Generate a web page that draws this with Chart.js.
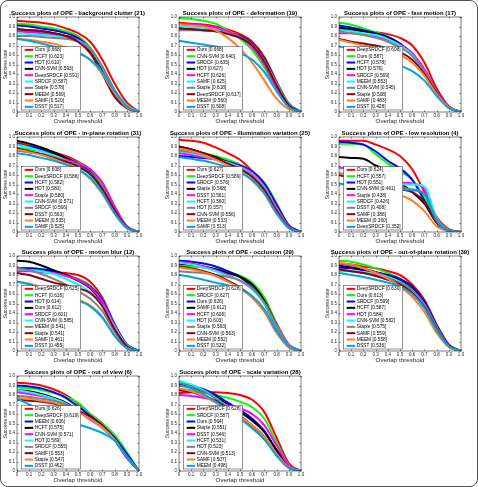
<!DOCTYPE html>
<html>
<head>
<meta charset="utf-8">
<script src="https://cdn.jsdelivr.net/npm/chart.js@4.4.1/dist/chart.umd.min.js"></script>
<style>
  body { margin: 0; background: #fff; }
  #page { position: relative; width: 478px; height: 487px; overflow: hidden; background: #fff; }
  #page canvas { position: absolute; }
  #edge { position: absolute; left: 0; top: 0; width: 478px; height: 487px; box-sizing: border-box;
          border: 1px solid #555; border-radius: 8px; pointer-events: none; }
</style>
</head>
<body>
<div id="page"><div id="edge"></div></div>
<script>
const thresholds = [0, 0.1, 0.2, 0.3, 0.4, 0.5, 0.6, 0.7, 0.8, 0.9, 1];
const colors = ['#ff0000', '#00ff00', '#0000ff', '#000000', '#ff00ff', '#00ffff', '#808080', '#880015', '#ff7f27', '#00a2e8'];

// background clutter
const clutterTrackers = ['Ours', 'HCFT', 'HDT', 'CNN-SVM', 'DeepSRDCF', 'SRDCF', 'Staple', 'MEEM', 'SAMF', 'DSST'];
const clutterScores = [0.668, 0.623, 0.610, 0.593, 0.591, 0.587, 0.578, 0.569, 0.520, 0.517];
const clutterCurves = [
    [0.96, 0.95, 0.94, 0.92, 0.88, 0.83, 0.74, 0.55, 0.30, 0.10, 0],
    [0.93, 0.92, 0.90, 0.88, 0.85, 0.80, 0.68, 0.47, 0.23, 0.07, 0],
    [0.91, 0.90, 0.88, 0.86, 0.83, 0.78, 0.66, 0.46, 0.22, 0.06, 0],
    [0.87, 0.86, 0.85, 0.83, 0.80, 0.76, 0.65, 0.45, 0.20, 0.05, 0],
    [0.85, 0.84, 0.83, 0.81, 0.79, 0.76, 0.67, 0.47, 0.22, 0.06, 0],
    [0.83, 0.82, 0.81, 0.80, 0.78, 0.75, 0.66, 0.47, 0.23, 0.07, 0],
    [0.80, 0.80, 0.79, 0.78, 0.77, 0.74, 0.66, 0.48, 0.23, 0.06, 0],
    [0.87, 0.86, 0.85, 0.83, 0.80, 0.74, 0.62, 0.40, 0.16, 0.04, 0],
    [0.77, 0.76, 0.74, 0.72, 0.68, 0.63, 0.55, 0.40, 0.20, 0.05, 0],
    [0.77, 0.75, 0.72, 0.69, 0.66, 0.62, 0.55, 0.42, 0.22, 0.06, 0],
];

// deformation
const deformTrackers = ['Ours', 'CNN-SVM', 'SRDCF', 'HDT', 'HCFT', 'SAMF', 'Staple', 'DeepSRDCF', 'MEEM', 'DSST'];
const deformScores = [0.668, 0.640, 0.635, 0.627, 0.626, 0.625, 0.618, 0.617, 0.560, 0.508];
const deformCurves = [
    [0.94, 0.93, 0.92, 0.90, 0.87, 0.82, 0.74, 0.58, 0.32, 0.09, 0],
    [0.99, 0.98, 0.96, 0.93, 0.86, 0.77, 0.65, 0.47, 0.24, 0.06, 0],
    [0.89, 0.88, 0.87, 0.86, 0.84, 0.80, 0.72, 0.56, 0.30, 0.08, 0],
    [0.88, 0.87, 0.86, 0.85, 0.83, 0.79, 0.71, 0.55, 0.30, 0.08, 0],
    [0.93, 0.92, 0.91, 0.89, 0.85, 0.79, 0.68, 0.50, 0.26, 0.07, 0],
    [0.90, 0.89, 0.88, 0.86, 0.83, 0.78, 0.70, 0.54, 0.30, 0.08, 0],
    [0.86, 0.86, 0.86, 0.85, 0.83, 0.79, 0.71, 0.54, 0.29, 0.07, 0],
    [0.88, 0.87, 0.86, 0.85, 0.82, 0.78, 0.70, 0.53, 0.28, 0.07, 0],
    [0.92, 0.91, 0.90, 0.86, 0.78, 0.67, 0.52, 0.33, 0.14, 0.03, 0],
    [0.75, 0.73, 0.71, 0.69, 0.66, 0.62, 0.55, 0.42, 0.22, 0.05, 0],
];

// fast motion
const fastTrackers = ['DeepSRDCF', 'Ours', 'HCFT', 'HDT', 'SRDCF', 'MEEM', 'CNN-SVM', 'Staple', 'SAMF', 'DSST'];
const fastScores = [0.608, 0.587, 0.578, 0.576, 0.569, 0.553, 0.545, 0.508, 0.483, 0.428];
const fastCurves = [
    [0.87, 0.86, 0.85, 0.84, 0.82, 0.78, 0.70, 0.52, 0.25, 0.06, 0],
    [0.94, 0.92, 0.88, 0.84, 0.79, 0.72, 0.61, 0.44, 0.21, 0.05, 0],
    [0.91, 0.89, 0.86, 0.83, 0.79, 0.72, 0.61, 0.44, 0.22, 0.05, 0],
    [0.89, 0.87, 0.85, 0.82, 0.78, 0.71, 0.61, 0.44, 0.22, 0.05, 0],
    [0.83, 0.83, 0.82, 0.80, 0.76, 0.71, 0.62, 0.45, 0.22, 0.05, 0],
    [0.86, 0.85, 0.83, 0.81, 0.77, 0.70, 0.60, 0.42, 0.20, 0.04, 0],
    [0.85, 0.83, 0.81, 0.78, 0.74, 0.68, 0.59, 0.43, 0.21, 0.05, 0],
    [0.77, 0.74, 0.72, 0.70, 0.67, 0.63, 0.55, 0.40, 0.20, 0.05, 0],
    [0.76, 0.73, 0.70, 0.67, 0.64, 0.60, 0.52, 0.38, 0.19, 0.05, 0],
    [0.69, 0.66, 0.62, 0.58, 0.54, 0.49, 0.43, 0.33, 0.17, 0.04, 0],
];

// in-plane rotation
const inPlaneTrackers = ['Ours', 'DeepSRDCF', 'HCFT', 'HDT', 'Staple', 'CNN-SVM', 'SRDCF', 'DSST', 'MEEM', 'SAMF'];
const inPlaneScores = [0.608, 0.586, 0.582, 0.580, 0.580, 0.571, 0.566, 0.563, 0.535, 0.525];
const inPlaneCurves = [
    [0.94, 0.91, 0.88, 0.84, 0.80, 0.74, 0.66, 0.50, 0.26, 0.06, 0],
    [0.89, 0.87, 0.85, 0.82, 0.78, 0.73, 0.65, 0.49, 0.26, 0.06, 0],
    [0.92, 0.90, 0.87, 0.83, 0.78, 0.72, 0.63, 0.46, 0.23, 0.05, 0],
    [0.96, 0.93, 0.89, 0.84, 0.78, 0.71, 0.61, 0.44, 0.22, 0.05, 0],
    [0.86, 0.84, 0.82, 0.79, 0.76, 0.72, 0.66, 0.52, 0.27, 0.06, 0],
    [0.92, 0.89, 0.85, 0.80, 0.75, 0.69, 0.60, 0.44, 0.22, 0.05, 0],
    [0.86, 0.84, 0.82, 0.79, 0.75, 0.70, 0.62, 0.46, 0.23, 0.05, 0],
    [0.88, 0.85, 0.82, 0.78, 0.74, 0.69, 0.61, 0.45, 0.23, 0.05, 0],
    [0.87, 0.84, 0.81, 0.77, 0.72, 0.66, 0.56, 0.40, 0.19, 0.04, 0],
    [0.83, 0.81, 0.78, 0.75, 0.71, 0.66, 0.57, 0.41, 0.20, 0.04, 0],
];

// illumination variation
const illumTrackers = ['Ours', 'DeepSRDCF', 'SRDCF', 'Staple', 'DSST', 'HCFT', 'HDT', 'CNN-SVM', 'MEEM', 'SAMF'];
const illumScores = [0.627, 0.589, 0.576, 0.568, 0.561, 0.560, 0.557, 0.556, 0.533, 0.513];
const illumCurves = [
    [0.97, 0.96, 0.94, 0.89, 0.83, 0.76, 0.64, 0.48, 0.28, 0.07, 0],
    [0.85, 0.84, 0.83, 0.80, 0.76, 0.71, 0.64, 0.52, 0.30, 0.07, 0],
    [0.80, 0.79, 0.78, 0.77, 0.74, 0.70, 0.64, 0.51, 0.29, 0.07, 0],
    [0.90, 0.87, 0.83, 0.79, 0.73, 0.67, 0.60, 0.48, 0.25, 0.05, 0],
    [0.83, 0.81, 0.79, 0.76, 0.73, 0.69, 0.62, 0.48, 0.26, 0.06, 0],
    [0.85, 0.83, 0.80, 0.77, 0.73, 0.68, 0.61, 0.47, 0.24, 0.05, 0],
    [0.86, 0.84, 0.81, 0.77, 0.72, 0.67, 0.60, 0.46, 0.24, 0.05, 0],
    [0.90, 0.87, 0.83, 0.78, 0.72, 0.66, 0.58, 0.44, 0.22, 0.05, 0],
    [0.88, 0.85, 0.81, 0.76, 0.70, 0.63, 0.54, 0.40, 0.19, 0.04, 0],
    [0.79, 0.77, 0.75, 0.72, 0.68, 0.63, 0.55, 0.41, 0.20, 0.04, 0],
];

// low resolution
const lowResTrackers = ['Ours', 'HCFT', 'HDT', 'CNN-SVM', 'Staple', 'SRDCF', 'DSST', 'SAMF', 'MEEM', 'DeepSRDCF'];
const lowResScores = [0.624, 0.557, 0.551, 0.461, 0.438, 0.426, 0.408, 0.388, 0.360, 0.352];
const lowResCurves = [
    [0.96, 0.96, 0.96, 0.92, 0.87, 0.80, 0.66, 0.42, 0.16, 0.03, 0],
    [0.93, 0.93, 0.92, 0.82, 0.72, 0.64, 0.55, 0.36, 0.12, 0.02, 0],
    [0.95, 0.94, 0.92, 0.85, 0.75, 0.67, 0.55, 0.33, 0.10, 0.02, 0],
    [0.79, 0.78, 0.77, 0.70, 0.64, 0.52, 0.42, 0.30, 0.10, 0.02, 0],
    [0.68, 0.66, 0.62, 0.58, 0.54, 0.52, 0.51, 0.45, 0.10, 0.01, 0],
    [0.62, 0.60, 0.56, 0.53, 0.51, 0.50, 0.50, 0.48, 0.15, 0.02, 0],
    [0.62, 0.59, 0.55, 0.52, 0.49, 0.47, 0.45, 0.40, 0.14, 0.02, 0],
    [0.60, 0.57, 0.53, 0.50, 0.47, 0.45, 0.42, 0.32, 0.10, 0.01, 0],
    [0.62, 0.58, 0.53, 0.48, 0.43, 0.39, 0.33, 0.22, 0.06, 0.01, 0],
    [0.51, 0.49, 0.48, 0.47, 0.46, 0.45, 0.44, 0.40, 0.12, 0.01, 0],
];

// motion blur
const blurTrackers = ['DeepSRDCF', 'HCFT', 'HDT', 'Ours', 'SRDCF', 'CNN-SVM', 'MEEM', 'Staple', 'SAMF', 'DSST'];
const blurScores = [0.625, 0.616, 0.614, 0.612, 0.601, 0.585, 0.541, 0.541, 0.461, 0.455];
const blurCurves = [
    [0.86, 0.85, 0.84, 0.83, 0.82, 0.80, 0.73, 0.56, 0.28, 0.06, 0],
    [0.87, 0.87, 0.86, 0.84, 0.80, 0.76, 0.69, 0.54, 0.28, 0.07, 0],
    [0.87, 0.87, 0.86, 0.84, 0.80, 0.75, 0.68, 0.54, 0.28, 0.07, 0],
    [0.95, 0.94, 0.90, 0.85, 0.80, 0.74, 0.66, 0.50, 0.25, 0.06, 0],
    [0.84, 0.84, 0.83, 0.82, 0.79, 0.75, 0.67, 0.52, 0.27, 0.06, 0],
    [0.86, 0.85, 0.84, 0.81, 0.76, 0.70, 0.62, 0.48, 0.25, 0.06, 0],
    [0.87, 0.85, 0.81, 0.76, 0.70, 0.63, 0.55, 0.42, 0.20, 0.04, 0],
    [0.82, 0.80, 0.76, 0.72, 0.69, 0.66, 0.61, 0.47, 0.23, 0.05, 0],
    [0.73, 0.71, 0.67, 0.62, 0.58, 0.54, 0.48, 0.36, 0.16, 0.03, 0],
    [0.73, 0.70, 0.66, 0.61, 0.57, 0.53, 0.47, 0.35, 0.16, 0.03, 0],
];

// occlusion
const occlTrackers = ['DeepSRDCF', 'SRDCF', 'Ours', 'SAMF', 'HCFT', 'HDT', 'Staple', 'CNN-SVM', 'MEEM', 'DSST'];
const occlScores = [0.628, 0.627, 0.626, 0.612, 0.606, 0.603, 0.593, 0.563, 0.552, 0.532];
const occlCurves = [
    [0.91, 0.90, 0.88, 0.86, 0.83, 0.79, 0.71, 0.55, 0.29, 0.07, 0],
    [0.90, 0.89, 0.88, 0.86, 0.83, 0.79, 0.72, 0.56, 0.28, 0.06, 0],
    [0.95, 0.94, 0.92, 0.89, 0.84, 0.78, 0.67, 0.50, 0.25, 0.06, 0],
    [0.92, 0.91, 0.89, 0.86, 0.82, 0.78, 0.70, 0.53, 0.27, 0.06, 0],
    [0.94, 0.92, 0.89, 0.85, 0.80, 0.74, 0.65, 0.50, 0.26, 0.06, 0],
    [0.93, 0.91, 0.88, 0.84, 0.79, 0.74, 0.65, 0.50, 0.26, 0.06, 0],
    [0.84, 0.83, 0.82, 0.80, 0.78, 0.74, 0.66, 0.51, 0.27, 0.06, 0],
    [0.89, 0.87, 0.84, 0.80, 0.74, 0.67, 0.57, 0.42, 0.20, 0.04, 0],
    [0.88, 0.86, 0.83, 0.79, 0.73, 0.66, 0.56, 0.41, 0.19, 0.04, 0],
    [0.80, 0.78, 0.75, 0.72, 0.69, 0.65, 0.58, 0.44, 0.21, 0.05, 0],
];

// out-of-plane rotation
const outPlaneTrackers = ['DeepSRDCF', 'Ours', 'SRDCF', 'HCFT', 'HDT', 'CNN-SVM', 'Staple', 'SAMF', 'MEEM', 'DSST'];
const outPlaneScores = [0.630, 0.613, 0.599, 0.587, 0.584, 0.582, 0.575, 0.559, 0.558, 0.536];
const outPlaneCurves = [
    [0.92, 0.91, 0.89, 0.87, 0.84, 0.80, 0.70, 0.54, 0.28, 0.07, 0],
    [0.95, 0.94, 0.91, 0.87, 0.82, 0.76, 0.66, 0.49, 0.25, 0.06, 0],
    [0.88, 0.87, 0.85, 0.83, 0.80, 0.76, 0.68, 0.52, 0.27, 0.06, 0],
    [0.90, 0.88, 0.86, 0.83, 0.79, 0.74, 0.65, 0.49, 0.25, 0.05, 0],
    [0.92, 0.90, 0.87, 0.83, 0.78, 0.72, 0.63, 0.48, 0.24, 0.05, 0],
    [0.84, 0.84, 0.83, 0.81, 0.78, 0.73, 0.64, 0.49, 0.25, 0.05, 0],
    [0.85, 0.84, 0.82, 0.80, 0.77, 0.72, 0.64, 0.49, 0.25, 0.05, 0],
    [0.86, 0.84, 0.82, 0.79, 0.75, 0.70, 0.61, 0.46, 0.23, 0.05, 0],
    [0.93, 0.91, 0.87, 0.82, 0.76, 0.68, 0.57, 0.41, 0.19, 0.04, 0],
    [0.82, 0.80, 0.78, 0.75, 0.72, 0.68, 0.60, 0.45, 0.22, 0.05, 0],
];

// out of view
const outViewTrackers = ['Ours', 'DeepSRDCF', 'MEEM', 'HCFT', 'CNN-SVM', 'HDT', 'SRDCF', 'SAMF', 'Staple', 'DSST'];
const outViewScores = [0.626, 0.619, 0.606, 0.575, 0.571, 0.569, 0.555, 0.553, 0.547, 0.462];
const outViewCurves = [
    [0.93, 0.92, 0.90, 0.86, 0.80, 0.71, 0.60, 0.50, 0.35, 0.18, 0],
    [0.88, 0.87, 0.85, 0.82, 0.78, 0.72, 0.60, 0.50, 0.38, 0.20, 0],
    [0.90, 0.89, 0.87, 0.83, 0.77, 0.68, 0.58, 0.48, 0.35, 0.18, 0],
    [0.85, 0.84, 0.81, 0.77, 0.72, 0.64, 0.55, 0.46, 0.33, 0.15, 0],
    [0.83, 0.81, 0.79, 0.76, 0.71, 0.63, 0.54, 0.45, 0.33, 0.14, 0],
    [0.85, 0.83, 0.80, 0.76, 0.71, 0.63, 0.55, 0.45, 0.32, 0.15, 0],
    [0.79, 0.78, 0.76, 0.74, 0.70, 0.64, 0.56, 0.46, 0.33, 0.15, 0],
    [0.75, 0.74, 0.73, 0.71, 0.68, 0.63, 0.57, 0.48, 0.33, 0.14, 0],
    [0.77, 0.76, 0.74, 0.72, 0.68, 0.62, 0.55, 0.46, 0.33, 0.15, 0],
    [0.76, 0.70, 0.63, 0.56, 0.52, 0.49, 0.45, 0.40, 0.32, 0.15, 0],
];

// scale variation
const scaleTrackers = ['DeepSRDCF', 'SRDCF', 'Ours', 'Staple', 'DSST', 'HCFT', 'HDT', 'CNN-SVM', 'SAMF', 'MEEM'];
const scaleScores = [0.628, 0.587, 0.564, 0.551, 0.546, 0.531, 0.523, 0.513, 0.507, 0.498];
const scaleCurves = [
    [0.82, 0.83, 0.83, 0.83, 0.82, 0.80, 0.75, 0.62, 0.35, 0.08, 0],
    [0.86, 0.85, 0.83, 0.80, 0.77, 0.73, 0.67, 0.55, 0.30, 0.06, 0],
    [0.93, 0.90, 0.86, 0.80, 0.72, 0.64, 0.55, 0.42, 0.22, 0.05, 0],
    [0.91, 0.88, 0.84, 0.78, 0.70, 0.62, 0.53, 0.41, 0.22, 0.05, 0],
    [0.80, 0.79, 0.77, 0.74, 0.69, 0.66, 0.60, 0.48, 0.27, 0.06, 0],
    [0.95, 0.91, 0.85, 0.77, 0.67, 0.57, 0.47, 0.34, 0.17, 0.04, 0],
    [0.93, 0.89, 0.84, 0.76, 0.66, 0.56, 0.46, 0.34, 0.17, 0.04, 0],
    [0.85, 0.83, 0.79, 0.74, 0.66, 0.58, 0.48, 0.36, 0.18, 0.04, 0],
    [0.87, 0.84, 0.79, 0.72, 0.65, 0.57, 0.48, 0.36, 0.18, 0.04, 0],
    [0.90, 0.87, 0.81, 0.73, 0.64, 0.55, 0.45, 0.33, 0.16, 0.03, 0],
];

const panels = [
    ['background clutter (21)', clutterTrackers, clutterScores, clutterCurves],
    ['deformation (19)', deformTrackers, deformScores, deformCurves],
    ['fast motion (17)', fastTrackers, fastScores, fastCurves],
    ['in-plane rotation (31)', inPlaneTrackers, inPlaneScores, inPlaneCurves],
    ['illumination variation (25)', illumTrackers, illumScores, illumCurves],
    ['low resolution (4)', lowResTrackers, lowResScores, lowResCurves],
    ['motion blur (12)', blurTrackers, blurScores, blurCurves],
    ['occlusion (29)', occlTrackers, occlScores, occlCurves],
    ['out-of-plane rotation (39)', outPlaneTrackers, outPlaneScores, outPlaneCurves],
    ['out of view (6)', outViewTrackers, outViewScores, outViewCurves],
    ['scale variation (28)', scaleTrackers, scaleScores, scaleCurves],
];

const FONT = '"Liberation Sans", Arial, Helvetica, sans-serif';
const INK = '#262626';
const colLeft = [0, 160, 320];
const colWidth = [160, 160, 158];
const plotLeft = [17, 19, 19];
const rowTop = [0, 120, 239, 359];
const PLOT_W = 122, PLOT_TOP = 17, AXIS_H = 14, CANVAS_H = 126;

// axes box with inward ticks, title and in-plot legend, MATLAB style
const matlabLook = {
    id: 'matlabLook',
    afterDatasetsDraw(chart) {
        const { ctx, chartArea: a } = chart;
        const xs = chart.scales.x, ys = chart.scales.y;
        ctx.save();
        ctx.strokeStyle = INK;
        ctx.lineWidth = 0.6;
        ctx.strokeRect(a.left, a.top, a.width, a.height);
        ctx.beginPath();
        xs.ticks.forEach(t => {
            const px = Math.round(xs.getPixelForValue(t.value)) + 0.5;
            ctx.moveTo(px, a.bottom); ctx.lineTo(px, a.bottom - 1.5);
            ctx.moveTo(px, a.top); ctx.lineTo(px, a.top + 1.5);
        });
        ys.ticks.forEach(t => {
            const py = Math.round(ys.getPixelForValue(t.value)) + 0.5;
            ctx.moveTo(a.left, py); ctx.lineTo(a.left + 1.5, py);
            ctx.moveTo(a.right, py); ctx.lineTo(a.right - 1.5, py);
        });
        ctx.stroke();

        // legend
        const labels = chart.data.datasets.map(d => d.label);
        ctx.font = '4.8px ' + FONT;
        const boxW = Math.max(...labels.map(l => ctx.measureText(l).width)) + 15;
        const rowH = 6.33;
        const boxH = rowH * labels.length;
        const x0 = a.left + 4.7, y0 = a.bottom - 2 - boxH;
        ctx.fillStyle = '#fff';
        ctx.fillRect(x0, y0, boxW, boxH);
        ctx.lineWidth = 0.5;
        ctx.strokeStyle = INK;
        ctx.strokeRect(x0, y0, boxW, boxH);
        ctx.textBaseline = 'middle';
        ctx.textAlign = 'left';
        labels.forEach((l, i) => {
            const cy = y0 + rowH * (i + 0.5);
            ctx.strokeStyle = colors[i];
            ctx.lineWidth = 2;
            ctx.beginPath();
            ctx.moveTo(x0 + 3, cy); ctx.lineTo(x0 + 11.5, cy);
            ctx.stroke();
            ctx.fillStyle = '#000';
            ctx.fillText(l, x0 + 13, cy + 0.2);
        });

        // title
        ctx.font = 'bold 6px ' + FONT;
        ctx.fillStyle = '#000';
        ctx.textAlign = 'center';
        ctx.textBaseline = 'alphabetic';
        ctx.fillText(chart.options.plugins.matlabLook.title, (a.left + a.right) / 2, a.top - 2);
        ctx.restore();
    }
};

const page = document.getElementById('page');

panels.forEach(([name, trackers, scores, curves], k) => {
    const col = k % 3, row = Math.floor(k / 3);
    const canvas = document.createElement('canvas');
    canvas.width = colWidth[col];
    canvas.height = CANVAS_H;
    canvas.style.left = colLeft[col] + 'px';
    canvas.style.top = rowTop[row] + 'px';
    page.insertBefore(canvas, document.getElementById('edge'));

    const yLeft = plotLeft[col];
    new Chart(canvas, {
        type: 'line',
        data: {
            datasets: curves.map((c, i) => ({
                label: trackers[i] + ' [' + scores[i].toFixed(3) + ']',
                data: thresholds.map((t, j) => ({ x: t, y: c[j] })),
                borderColor: colors[i],
                borderWidth: 2,
                pointRadius: 0,
                cubicInterpolationMode: 'monotone',
                fill: false,
                order: -i,
            })),
        },
        options: {
            responsive: false,
            animation: false,
            devicePixelRatio: 1,
            layout: { padding: { left: 0, top: PLOT_TOP, right: colWidth[col] - yLeft - PLOT_W, bottom: 0 } },
            plugins: {
                legend: { display: false },
                title: { display: false },
                tooltip: { enabled: false },
                matlabLook: { title: 'Success plots of OPE - ' + name },
            },
            scales: {
                x: {
                    type: 'linear',
                    min: 0,
                    max: 1,
                    grid: { display: false, drawTicks: false },
                    border: { display: false },
                    ticks: { stepSize: 0.1, autoSkip: false, maxRotation: 0, padding: 1.5, color: INK, font: { size: 4.5, family: FONT } },
                    title: { display: true, text: 'Overlap threshold', color: INK, font: { size: 6.2, family: FONT }, padding: { top: 0, bottom: 1 } },
                    afterFit: s => { s.height = AXIS_H; },
                },
                y: {
                    min: 0,
                    max: 1,
                    grid: { display: false, drawTicks: false },
                    border: { display: false },
                    ticks: { stepSize: 0.1, autoSkip: false, padding: 2, color: INK, font: { size: 4.5, family: FONT } },
                    title: { display: true, text: 'Success rate', color: INK, font: { size: 5.2, family: FONT }, padding: { top: yLeft - 14.2, bottom: 0 } },
                    afterFit: s => { s.width = yLeft; },
                },
            },
        },
        plugins: [matlabLook],
    });
});
</script>
</body>
</html>
